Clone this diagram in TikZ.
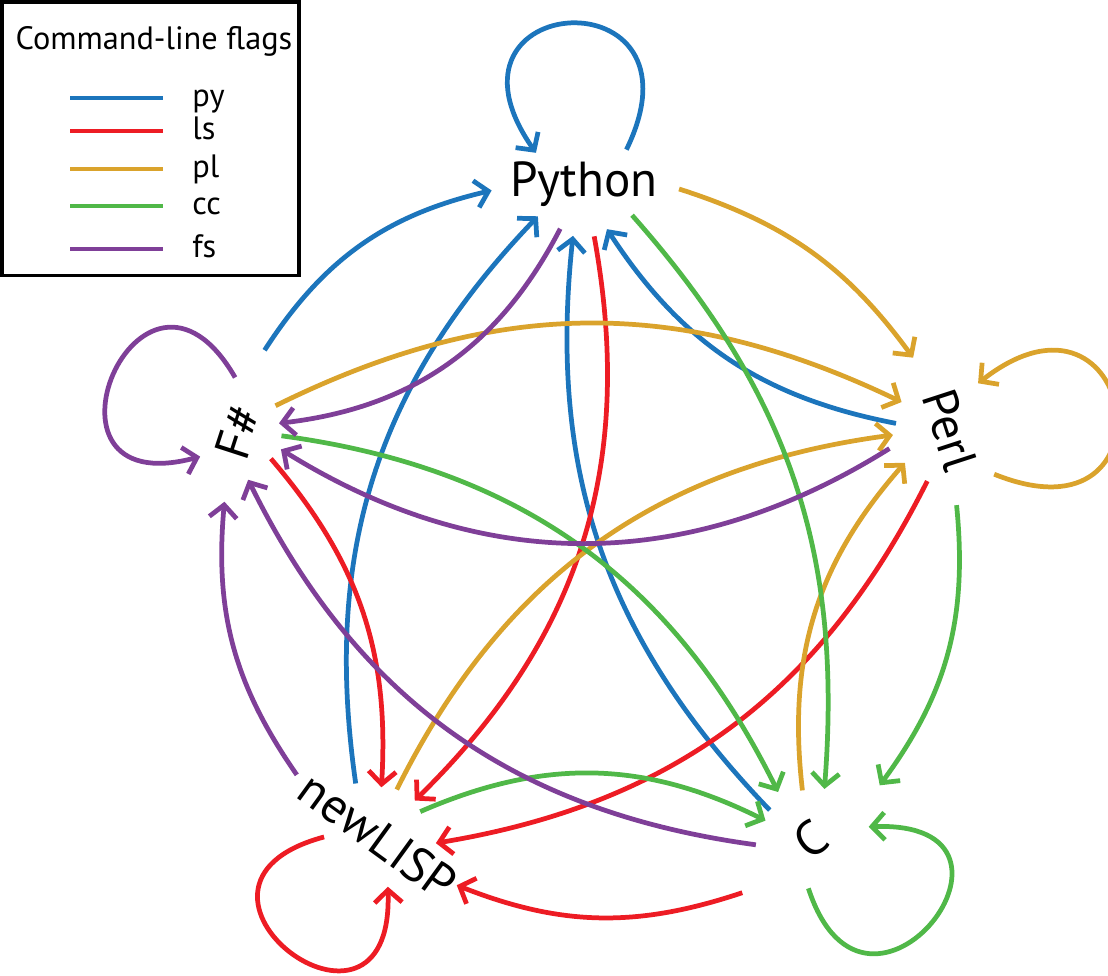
\documentclass[tikz,border=0pt]{standalone}
\usepackage{fontspec}
\setmainfont{PT Sans}
\usetikzlibrary{arrows.meta,shapes.geometric}

\definecolor{pyblue}{RGB}{28,117,188}
\definecolor{lsred}{RGB}{237,28,36}
\definecolor{plgold}{RGB}{218,163,44}
\definecolor{ccgreen}{RGB}{80,184,72}
\definecolor{fspurple}{RGB}{127,63,152}

% text of zero width, so the diamond keeps its own size
\newcommand{\langname}[1]{\makebox[0pt]{#1}}

\begin{document}
\begin{tikzpicture}[
    font=\fontsize{14}{16}\selectfont,
    lang/.style={
        diamond,
        inner sep=0pt,
        outer sep=0pt
    },
    flag/.style={
        line width=1.35pt,
        -{Straight Barb[length=3.6pt,width=7.8pt]}
    },
    pyedge/.style={flag, draw=pyblue},
    lsedge/.style={flag, draw=lsred},
    pledge/.style={flag, draw=plgold},
    ccedge/.style={flag, draw=ccgreen},
    fsedge/.style={flag, draw=fspurple},
    loopy/.style={looseness=5.6},
    keyfont/.style={font=\fontsize{9.2}{11}\selectfont}
]
\useasboundingbox (0,0) rectangle (11.08,-9.75);

% ============================================================
% LANGUAGES
% ============================================================
\node[lang, minimum width=2.08cm, minimum height=1.16cm] (python) at (5.84,-1.84) {\langname{Python}};
\node[lang, minimum width=2.0cm, minimum height=1.28cm, rotate=-72] (perl) at (9.50,-4.30) {\langname{Perl}};
\node[lang, minimum width=1.84cm, minimum height=1.16cm, rotate=36] (c) at (8.11,-8.39) {\langname{C}};
\node[lang, minimum width=2.1cm, minimum height=1.1cm, rotate=-36] (newlisp) at (3.78,-8.36) {\langname{newLISP}};
\node[lang, minimum width=1.72cm, minimum height=0.96cm, rotate=72] (fsharp) at (2.38,-4.32) {\langname{F\#}};

% ============================================================
% py
% ============================================================
\draw[pyedge] (python.39) to[out=64, in=125, loopy] (python.147);
\draw[pyedge] (fsharp.0) to[bend left=22] (python.184);
\draw[pyedge] (newlisp.149) to[bend left=26] (python.215);
\draw[pyedge] (c.109) to[bend left=25] (python.258);
\draw[pyedge] (perl.245) to[bend left=23] (python.297);

% ============================================================
% ls
% ============================================================
\draw[lsedge] (newlisp.217) to[out=195, in=272, looseness=6] (newlisp.317);
\draw[lsedge] (python.281) to[bend left=28] (newlisp.80);
\draw[lsedge] (fsharp.249) to[bend left=22] (newlisp.122);
\draw[lsedge] (perl.318) to[bend left=27] (newlisp.29);
\draw[lsedge] (c.182) to[bend left=20] (newlisp.4);

% ============================================================
% pl
% ============================================================
\draw[pledge] (perl.27) to[out=-22, in=38, loopy] (perl.131);
\draw[pledge] (python.-3) to[bend left=18] (perl.189);
\draw[pledge] (fsharp.323) to[bend left=26] (perl.222);
\draw[pledge] (newlisp.104) to[bend left=28] (perl.257);
\draw[pledge] (c.64) to[bend left=24] (perl.288);

% ============================================================
% cc
% ============================================================
\draw[ccedge] (c.231) to[out=-72, in=2, loopy] (c.336);
\draw[ccedge] (python.-33) to[bend left=23] (c.39);
\draw[ccedge] (fsharp.283) to[bend left=28] (c.89);
\draw[ccedge] (newlisp.66) to[bend left=25] (c.122);
\draw[ccedge] (perl.347) to[bend left=21] (c.2);

% ============================================================
% fs
% ============================================================
\draw[fsedge] (fsharp.21) to[out=120, in=195, loopy] (fsharp.141);
\draw[fsedge] (python.242) to[bend left=28] (fsharp.300);
\draw[fsedge] (perl.269) to[bend left=32] (fsharp.266);
\draw[fsedge] (newlisp.179) to[bend left=20] (fsharp.187);
\draw[fsedge] (c.150) to[bend left=28] (fsharp.210);

% ============================================================
% LEGEND
% ============================================================
\draw[line width=1.05pt] (0.018,-0.018) rectangle (2.99,-2.755);
\node[keyfont] (keytitle) at (1.54,-0.41) {Command-line flags};
\foreach \col/\txt/\y in {pyblue/py/0.98, lsred/ls/1.31, plgold/pl/1.69, ccgreen/cc/2.06, fspurple/fs/2.49} {
    \draw[\col, line width=1.4pt] (0.70,-\y) -- (1.63,-\y);
    \node[keyfont, anchor=mid west] (key\txt) at (1.80,-\y) {\txt};
}

\end{tikzpicture}
\end{document}
